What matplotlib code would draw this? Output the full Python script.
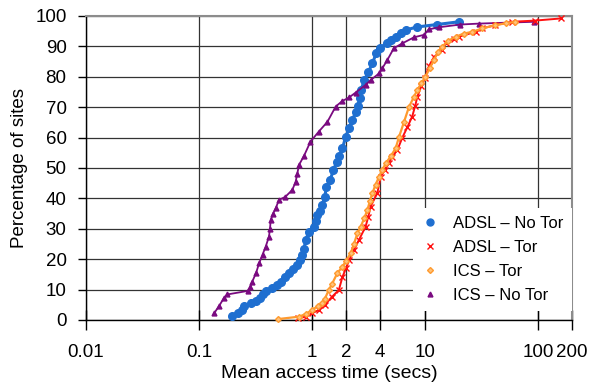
import matplotlib
matplotlib.use('Agg')
import matplotlib.pyplot as plt
from matplotlib.lines import Line2D

plt.rcParams['font.family'] = ['Liberation Sans', 'DejaVu Sans']

# Mean access time (secs) vs cumulative percentage of sites
adsl_notor_x = [0.197, 0.22, 0.242, 0.25, 0.287, 0.32, 0.35, 0.37, 0.389, 0.445, 0.49, 0.528,
                0.58, 0.626, 0.68, 0.74, 0.79, 0.82, 0.85, 0.88, 0.94, 1.04, 1.08, 1.11, 1.17,
                1.23, 1.30, 1.34, 1.45, 1.55, 1.66, 1.75, 1.86, 1.99, 2.13, 2.27, 2.45, 2.55,
                2.65, 2.72, 2.9, 3.15, 3.42, 3.7, 4.0, 4.6, 5.0, 5.5, 6.1, 6.75, 8.56, 12.8, 20.0]
adsl_notor_y = [1.3, 2.2, 3.3, 4.6, 5.5, 6.3, 7.1, 8.4, 9.6, 10.4, 11.5, 12.6,
                14.0, 15.4, 16.8, 18.1, 19.8, 21.4, 23.5, 26.3, 29.0, 30.7, 32.5, 34.5, 36.0,
                37.8, 40.5, 43.9, 46.0, 49.5, 52.0, 54.0, 56.5, 60.3, 63.0, 65.8, 68.5, 70.5,
                73.0, 75.7, 78.9, 81.5, 84.4, 87.7, 89.5, 91.2, 92.2, 93.2, 94.3, 95.4, 96.4, 97.2, 98.1]

adsl_tor_x = [0.75, 0.88, 1.0, 1.15, 1.3, 1.51, 1.73, 1.86, 2.0, 2.13, 2.35, 2.6, 2.98, 3.15,
              3.3, 3.78, 4.06, 4.4, 4.8, 5.1, 5.7, 6.3, 7.0, 7.7, 8.2, 8.56, 9.3, 10.0, 10.8,
              12.0, 14.2, 15.2, 18.0, 20.0, 28.0, 32.0, 42.0, 59.0, 95.0, 160.0]
adsl_tor_y = [0.5, 1.1, 2.2, 3.3, 5.0, 7.7, 9.9, 14.2, 17.0, 19.7, 23.0, 26.3, 30.7, 34.0,
              37.3, 41.7, 47.1, 49.5, 51.5, 53.7, 55.9, 60.0, 63.5, 66.9, 70.5, 73.5, 77.0, 79.5, 83.4,
              86.5, 88.8, 91.0, 92.5, 93.2, 94.8, 95.9, 97.0, 98.1, 98.5, 99.2]

ics_tor_x = [0.5, 0.77, 0.88, 1.0, 1.12, 1.23, 1.3, 1.41, 1.51, 1.68, 1.86, 2.0, 2.2, 2.35,
             2.52, 2.7, 2.9, 3.09, 3.25, 3.42, 3.65, 3.92, 4.2, 4.49, 5.0, 5.5, 5.9, 6.5, 7.2,
             8.0, 8.56, 9.3, 10.1, 11.0, 12.0, 13.0, 14.2, 16.0, 18.7, 22.0, 26.2, 32.0, 42.0,
             52.0, 63.0]
ics_tor_y = [0.3, 1.1, 2.0, 3.3, 4.5, 5.5, 7.0, 9.9, 12.0, 15.5, 17.5, 19.5, 21.9, 25.0,
             28.5, 30.7, 33.5, 36.2, 39.0, 41.7, 44.5, 47.1, 49.5, 51.5, 54.0, 56.5, 60.3, 65.0, 70.0,
             73.5, 75.7, 78.0, 80.0, 82.8, 85.5, 88.0, 89.9, 91.8, 93.2, 94.2, 94.8, 95.9, 97.0,
             97.6, 98.1]

ics_notor_x = [0.136, 0.15, 0.166, 0.178, 0.273, 0.285, 0.296, 0.32, 0.34, 0.365, 0.389, 0.416,
               0.425, 0.431, 0.452, 0.477, 0.51, 0.58, 0.67, 0.717, 0.74, 0.767, 0.85, 0.97,
               1.15, 1.37, 1.62, 1.85, 2.13, 2.43, 2.98, 3.3, 3.92, 4.19, 4.64, 5.3, 6.3, 8.0,
               9.8, 10.8, 13.3, 20.6, 30.0, 92.0]
ics_notor_y = [2.2, 4.5, 7.2, 8.4, 9.6, 11.0, 12.6, 15.5, 18.6, 21.5, 24.1, 27.4,
               30.0, 32.9, 35.0, 36.7, 39.5, 40.5, 42.8, 45.5, 48.0, 51.0, 54.0, 58.7,
               62.0, 65.2, 70.2, 72.0, 73.2, 74.8, 77.3, 78.9, 81.1, 82.8, 85.5, 89.4, 91.0, 93.0,
               93.8, 95.6, 96.3, 97.2, 97.5, 98.1]

xticks = [0.01, 0.1, 1, 2, 4, 10, 100, 200]
xtick_labels = ['0.01', '0.1', '1', '2', '4', '10', '100', '200']
yticks = [0, 10, 20, 30, 40, 50, 60, 70, 80, 90, 100]

blue = '#1f6fd0'
red = '#ff1010'
orange = '#ff9a2e'
purple = '#7a0a80'

fig = plt.figure(figsize=(5.9, 3.84), dpi=100)
ax = fig.add_axes([86 / 590, 64 / 384, 486 / 590, 304 / 384])

# Series
ax.plot(adsl_notor_x, adsl_notor_y, color=blue, lw=2.2, marker='o', ms=5.5, mec=blue, mfc=blue,
        clip_on=False, zorder=3)
ax.plot(ics_notor_x, ics_notor_y, color=purple, lw=1.3, marker='^', ms=3.5, mec=purple, mfc=purple,
        clip_on=False, zorder=3)
ax.plot(adsl_tor_x, adsl_tor_y, color=red, lw=1.4, marker='x', ms=4.5, mew=1, clip_on=False, zorder=3)
ax.plot(ics_tor_x, ics_tor_y, color=orange, lw=1.6, marker='D', ms=3, mec=orange, mfc='#ffc27a',
        clip_on=False, zorder=4)

# Axes
ax.set_xscale('log')
ax.set_xlim(0.01, 200)
ax.set_ylim(0, 100)
ax.set_xticks(xticks)
ax.set_xticklabels(xtick_labels)
ax.xaxis.set_minor_locator(matplotlib.ticker.NullLocator())
ax.set_yticks(yticks)
ax.tick_params(axis='x', direction='inout', length=15, width=1, pad=10, labelsize=13.5)
ax.tick_params(axis='y', direction='out', length=6, width=1, pad=8, labelsize=13.5)

ax.grid(True, color='#333333', lw=0.9)
ax.set_axisbelow(True)
for side in ['top', 'right']:
    ax.spines[side].set_color('#8c8c8c')
    ax.spines[side].set_linewidth(1.5)
for side in ['left', 'bottom']:
    ax.spines[side].set_color('black')
    ax.spines[side].set_linewidth(1)

ax.set_xlabel('Mean access time (secs)', fontsize=14, labelpad=3)
ax.set_ylabel('Percentage of sites', fontsize=13.5, labelpad=5)

# Legend (markers only)
handles = [
    Line2D([], [], ls='none', marker='o', ms=5, color=blue),
    Line2D([], [], ls='none', marker='x', ms=4.5, mew=1, color=red),
    Line2D([], [], ls='none', marker='D', ms=3, mec=orange, mfc='#ffc27a'),
    Line2D([], [], ls='none', marker='^', ms=3.5, color=purple),
]
labels = ['ADSL \u2013 No Tor', 'ADSL \u2013 Tor', 'ICS \u2013 Tor', 'ICS \u2013 No Tor']
leg = ax.legend(handles, labels, loc='lower right', bbox_to_anchor=(1.0, 0.03), fontsize=12,
                frameon=True, fancybox=False, framealpha=1, facecolor='white', edgecolor='none',
                handlelength=1.0, handletextpad=0.9, labelspacing=0.53, borderpad=0.5,
                borderaxespad=0)
leg.set_zorder(5)

plt.savefig('out.png', dpi=100)
plt.close()
